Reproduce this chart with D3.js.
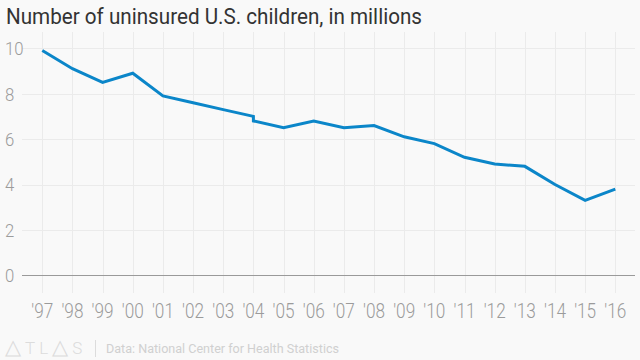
<!DOCTYPE html>
<html>
<head>
<meta charset="utf-8">
<script src="https://cdn.jsdelivr.net/npm/d3@7"></script>
<style>
  html, body { margin: 0; padding: 0; background: #f9f9f9; }
  svg { display: block; font-family: Roboto, "Noto Sans", sans-serif; }
</style>
</head>
<body>
<svg id="chart" width="640" height="360"></svg>
<script>
// Data (2004 has two estimates due to a change in survey methodology)
const years = ["1997","1998","1999","2000","2001","2002","2003","2004","2005","2006","2007","2008","2009","2010","2011","2012","2013","2014","2015","2016"];
const xTickLabels = ["'97","'98","'99","'00","'01","'02","'03","'04","'05","'06","'07","'08","'09","'10","'11","'12","'13","'14","'15","'16"];
const pointYears = ["1997","1998","1999","2000","2001","2002","2003","2004","2004","2005","2006","2007","2008","2009","2010","2011","2012","2013","2014","2015","2016"];
const uninsured = [9.9, 9.1, 8.5, 8.9, 7.9, 7.6, 7.3, 7.0, 6.8, 6.5, 6.8, 6.5, 6.6, 6.1, 5.8, 5.2, 4.9, 4.8, 4.0, 3.3, 3.8];
const yTicks = [0, 2, 4, 6, 8, 10];

const title = "Number of uninsured U.S. children, in millions";
const source = "Data: National Center for Health Statistics";

const svg = d3.select("#chart");
const W = 640, H = 360;

svg.append("rect").attr("width", W).attr("height", H).attr("fill", "#f9f9f9");

const x = d3.scalePoint().domain(years).range([42.3, 615.3]);
const y = d3.scaleLinear().domain([0, 10]).range([275.3, 48.3]);

const gridLeft = 22, gridRight = 635;

// horizontal grid
svg.append("g").selectAll("line").data(yTicks.filter(d => d !== 0)).join("line")
  .attr("x1", gridLeft).attr("x2", gridRight)
  .attr("y1", d => Math.round(y(d)) + 0.5).attr("y2", d => Math.round(y(d)) + 0.5)
  .attr("stroke", "#ebebeb").attr("stroke-width", 1);

// vertical grid
svg.append("g").selectAll("line").data(years).join("line")
  .attr("x1", d => Math.round(x(d)) + 0.5).attr("x2", d => Math.round(x(d)) + 0.5)
  .attr("y1", 32).attr("y2", 293)
  .attr("stroke", "#ebebeb").attr("stroke-width", 1);

// zero line
svg.append("line")
  .attr("x1", gridLeft).attr("x2", gridRight)
  .attr("y1", Math.round(y(0)) + 0.5).attr("y2", Math.round(y(0)) + 0.5)
  .attr("stroke", "#9a9a9a").attr("stroke-width", 1);

function condense(sel, factor) {
  sel.each(function() {
    const len = this.getComputedTextLength();
    d3.select(this).attr("textLength", len * factor).attr("lengthAdjust", "spacingAndGlyphs");
  });
}

// y tick labels
svg.append("g").selectAll("text").data(yTicks).join("text")
  .attr("x", 5).attr("y", d => y(d) + 6.8)
  .attr("font-size", 19).attr("font-weight", 300).attr("fill", "#9b9b9b")
  .text(d => d)
  .call(condense, 0.88);

// x tick labels
svg.append("g").selectAll("text").data(years).join("text")
  .attr("x", d => x(d)).attr("y", 318)
  .attr("text-anchor", "middle")
  .attr("font-size", 20).attr("font-weight", 300).attr("fill", "#9b9b9b")
  .text((d, i) => xTickLabels[i])
  .call(condense, 0.86)
  .each(function() {
    const len = +d3.select(this).attr("textLength");
    d3.select(this).attr("x", +d3.select(this).attr("x") - len / 2).attr("text-anchor", "start");
  });

// line
const pts = pointYears.map((yr, i) => [x(yr), y(uninsured[i])]);
svg.append("path")
  .attr("d", d3.line()(pts))
  .attr("fill", "none").attr("stroke", "#0b86c9")
  .attr("stroke-width", 3).attr("stroke-linejoin", "miter").attr("stroke-linecap", "butt");

// title
svg.append("text")
  .attr("x", 6).attr("y", 23.5)
  .attr("font-size", 22).attr("fill", "#333333")
  .attr("textLength", 416).attr("lengthAdjust", "spacingAndGlyphs")
  .text(title);

// footer
const logo = svg.append("text")
  .attr("x", 5).attr("y", 354)
  .attr("font-size", 17).attr("font-weight", 300).attr("fill", "#dcdcdc")
  .attr("letter-spacing", 4);
logo.append("tspan").attr("font-family", "DejaVu Sans").attr("font-size", 21).text("△");
logo.append("tspan").text("TL");
logo.append("tspan").attr("font-family", "DejaVu Sans").attr("font-size", 21).text("△");
logo.append("tspan").text("S");
svg.append("line")
  .attr("x1", 95.5).attr("x2", 95.5).attr("y1", 340).attr("y2", 357)
  .attr("stroke", "#dcdcdc").attr("stroke-width", 1);
svg.append("text")
  .attr("x", 106).attr("y", 352.5)
  .attr("font-size", 12).attr("fill", "#d0d0d0")
  .attr("textLength", 233).attr("lengthAdjust", "spacingAndGlyphs")
  .text(source);
</script>
</body>
</html>
